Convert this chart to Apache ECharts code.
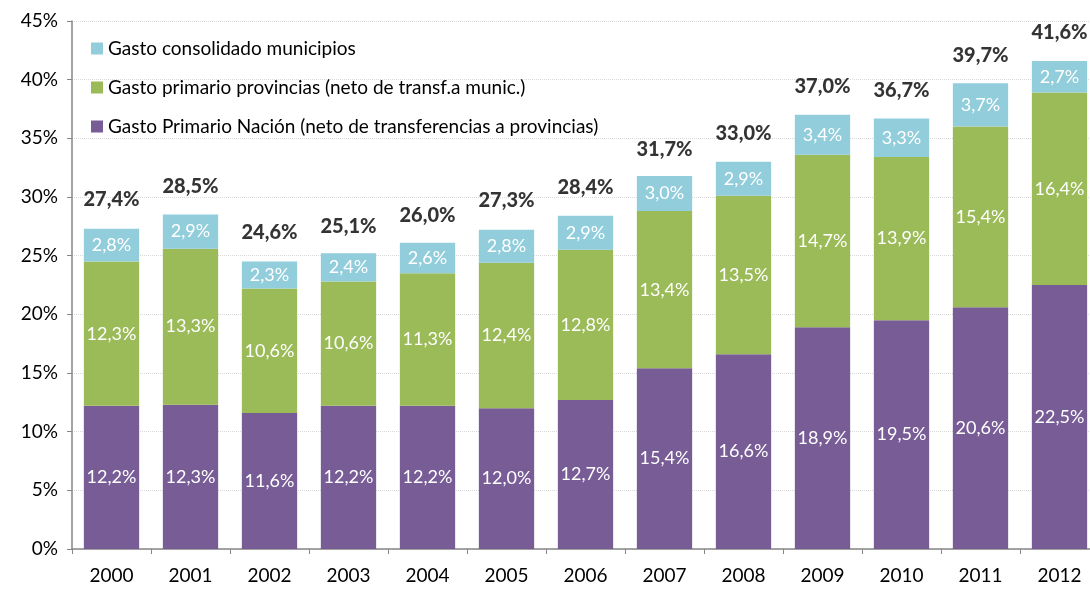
<!DOCTYPE html>
<html>
<head>
<meta charset="utf-8">
<script src="https://cdn.jsdelivr.net/npm/echarts@6/dist/echarts.min.js"></script>
<style>
  html, body { margin: 0; padding: 0; background: #fff; overflow: hidden; }
  #chart { width: 1100px; height: 590px; }
</style>
</head>
<body>
<div id="chart"></div>
<script>
const years = ['2000', '2001', '2002', '2003', '2004', '2005', '2006', '2007', '2008', '2009', '2010', '2011', '2012'];
const nacion = [12.2, 12.3, 11.6, 12.2, 12.2, 12.0, 12.7, 15.4, 16.6, 18.9, 19.5, 20.6, 22.5];
const provincias = [12.3, 13.3, 10.6, 10.6, 11.3, 12.4, 12.8, 13.4, 13.5, 14.7, 13.9, 15.4, 16.4];
const municipios = [2.8, 2.9, 2.3, 2.4, 2.6, 2.8, 2.9, 3.0, 2.9, 3.4, 3.3, 3.7, 2.7];
const totales = [27.4, 28.5, 24.6, 25.1, 26.0, 27.3, 28.4, 31.7, 33.0, 37.0, 36.7, 39.7, 41.6];

const FONT = 'Lato';
const pct = v => v.toFixed(1).replace('.', ',') + '%';

// el gráfico original queda cortado a la derecha: el div es más ancho que la ventana
const chart = echarts.init(document.getElementById('chart'));

const innerLabel = {
    show: true,
    position: 'inside',
    color: '#fff',
    fontFamily: FONT,
    fontSize: 18,
    formatter: p => pct(p.value)
};

chart.setOption({
    animation: false,
    textStyle: { fontFamily: FONT },
    grid: { left: 72, top: 21, bottom: 41, right: 1 },
    legend: {
        orient: 'vertical',
        left: 86,
        top: 34,
        itemWidth: 12,
        itemHeight: 12,
        itemGap: 20,
        icon: 'rect',
        textStyle: { fontFamily: FONT, fontSize: 19, color: '#000' },
        data: ['Gasto consolidado municipios', 'Gasto primario provincias (neto de transf.a munic.)', 'Gasto Primario Nación (neto de transferencias a provincias)']
    },
    xAxis: {
        type: 'category',
        data: years,
        axisLine: { lineStyle: { color: '#868686', width: 1.5 } },
        axisTick: { show: true, length: 5, lineStyle: { color: '#868686' } },
        axisLabel: { color: '#000', fontSize: 19, margin: 17, fontFamily: FONT }
    },
    yAxis: {
        type: 'value',
        min: 0,
        max: 45,
        interval: 5,
        axisLine: { show: true, lineStyle: { color: '#868686', width: 1.5 } },
        axisTick: { show: true, length: 5, lineStyle: { color: '#868686' } },
        axisLabel: { color: '#000', fontSize: 19, margin: 14, fontFamily: FONT, formatter: v => v + '%' },
        splitLine: { lineStyle: { color: '#d9d9d9', type: 'dotted' } }
    },
    series: [
        {
            name: 'Gasto Primario Nación (neto de transferencias a provincias)',
            type: 'bar',
            stack: 'total',
            data: nacion,
            barCategoryGap: '30%',
            itemStyle: { color: '#775c96' },
            label: innerLabel
        },
        {
            name: 'Gasto primario provincias (neto de transf.a munic.)',
            type: 'bar',
            stack: 'total',
            data: provincias,
            itemStyle: { color: '#9bbb59' },
            label: innerLabel
        },
        {
            name: 'Gasto consolidado municipios',
            type: 'bar',
            stack: 'total',
            data: municipios,
            itemStyle: { color: '#92cddc' },
            label: innerLabel
        },
        {
            name: 'Total',
            type: 'scatter',
            data: totales,
            symbolSize: 0,
            silent: true,
            label: {
                show: true,
                position: 'top',
                distance: 18,
                color: '#000',
                fontWeight: 900,
                fontSize: 20,
                fontFamily: FONT,
                formatter: p => pct(p.value)
            }
        }
    ]
});
</script>
</body>
</html>
